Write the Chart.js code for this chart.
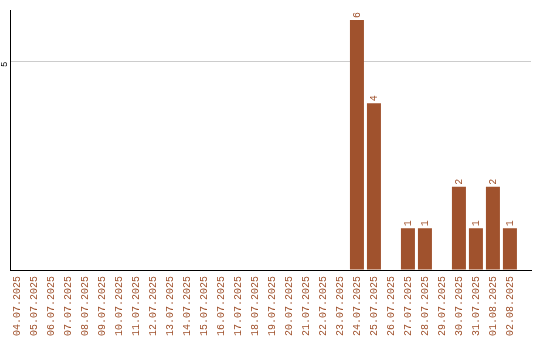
<!DOCTYPE html>
<html>
<head>
<meta charset="utf-8">
<title>Daily count</title>
<script src="https://cdn.jsdelivr.net/npm/chart.js@4.4.1/dist/chart.umd.min.js"></script>
<style>
  html, body { margin: 0; padding: 0; background: #fff; }
  #wrap { width: 540px; height: 340px; }
</style>
</head>
<body>
<div id="wrap"><canvas id="chart" width="540" height="340"></canvas></div>
<script>
// Days shown along the x axis
const dates = [
  '04.07.2025', '05.07.2025', '06.07.2025', '07.07.2025', '08.07.2025',
  '09.07.2025', '10.07.2025', '11.07.2025', '12.07.2025', '13.07.2025',
  '14.07.2025', '15.07.2025', '16.07.2025', '17.07.2025', '18.07.2025',
  '19.07.2025', '20.07.2025', '21.07.2025', '22.07.2025', '23.07.2025',
  '24.07.2025', '25.07.2025', '26.07.2025', '27.07.2025', '28.07.2025',
  '29.07.2025', '30.07.2025', '31.07.2025', '01.08.2025', '02.08.2025'
];

// Count per day
const counts = [
  0, 0, 0, 0, 0,
  0, 0, 0, 0, 0,
  0, 0, 0, 0, 0,
  0, 0, 0, 0, 0,
  6, 4, 0, 1, 1,
  0, 2, 1, 2, 1
];

// Value ticks printed on the y axis
const yTickValues = [5];

const BROWN = '#A0522D';
const MONO = '"Liberation Mono", "DejaVu Sans Mono", monospace';

Chart.defaults.font.family = MONO;
Chart.defaults.color = BROWN;

// Writes each bar's value, turned upright, just above the bar
const valueLabels = {
  id: 'valueLabels',
  afterDatasetsDraw(chart) {
    const ctx = chart.ctx;
    const meta = chart.getDatasetMeta(0);
    ctx.save();
    ctx.fillStyle = BROWN;
    ctx.font = '10px ' + MONO;
    ctx.textAlign = 'left';
    ctx.textBaseline = 'middle';
    meta.data.forEach((bar, i) => {
      const v = counts[i];
      if (!v) return;
      ctx.save();
      ctx.translate(bar.x, bar.y - 2);
      ctx.rotate(-Math.PI / 2);
      ctx.fillText(String(v), 0, 0);
      ctx.restore();
    });
    ctx.restore();
  }
};

new Chart(document.getElementById('chart'), {
  type: 'bar',
  data: {
    datasets: [{
      data: dates.map((d, i) => ({ x: i, y: counts[i] })),
      backgroundColor: BROWN,
      borderWidth: 0,
      barPercentage: 14 / 17,
      categoryPercentage: 1
    }]
  },
  options: {
    responsive: false,
    devicePixelRatio: 1,
    animation: false,
    layout: { padding: { top: 10, right: 9, bottom: 0, left: 0 } },
    plugins: {
      legend: { display: false },
      tooltip: { enabled: false }
    },
    scales: {
      x: {
        type: 'linear',
        offset: false,
        min: -0.382,
        max: 30.24,
        grid: { display: false, offset: false, drawTicks: false },
        border: { display: true, color: '#000', width: 1 },
        ticks: {
          stepSize: 1,
          maxTicksLimit: 100,
          includeBounds: false,
          autoSkip: false,
          minRotation: 90,
          maxRotation: 90,
          padding: 6,
          color: BROWN,
          font: { size: 10, family: MONO },
          callback: (v) => (Number.isInteger(v) && dates[v]) ? dates[v] : ''
        },
        afterFit: (scale) => {
          scale.height = 70;
          scale.paddingLeft = 0;
          scale.paddingRight = 0;
        }
      },
      y: {
        min: 0,
        max: 6.24,
        grid: {
          drawTicks: false,
          color: (c) => yTickValues.includes(c.tick && c.tick.value) ? '#cccccc' : 'rgba(0,0,0,0)',
          lineWidth: 1
        },
        border: { display: true, color: '#000', width: 1 },
        ticks: {
          stepSize: 5,
          includeBounds: false,
          minRotation: 90,
          maxRotation: 90,
          padding: 6,
          color: '#000',
          font: { size: 9, family: MONO },
          callback: (v) => yTickValues.includes(v) ? String(v) : ''
        },
        afterFit: (scale) => {
          scale.width = 10.5;
          scale.paddingTop = 0;
          scale.paddingBottom = 0;
        }
      }
    }
  },
  plugins: [valueLabels]
});
</script>
</body>
</html>
